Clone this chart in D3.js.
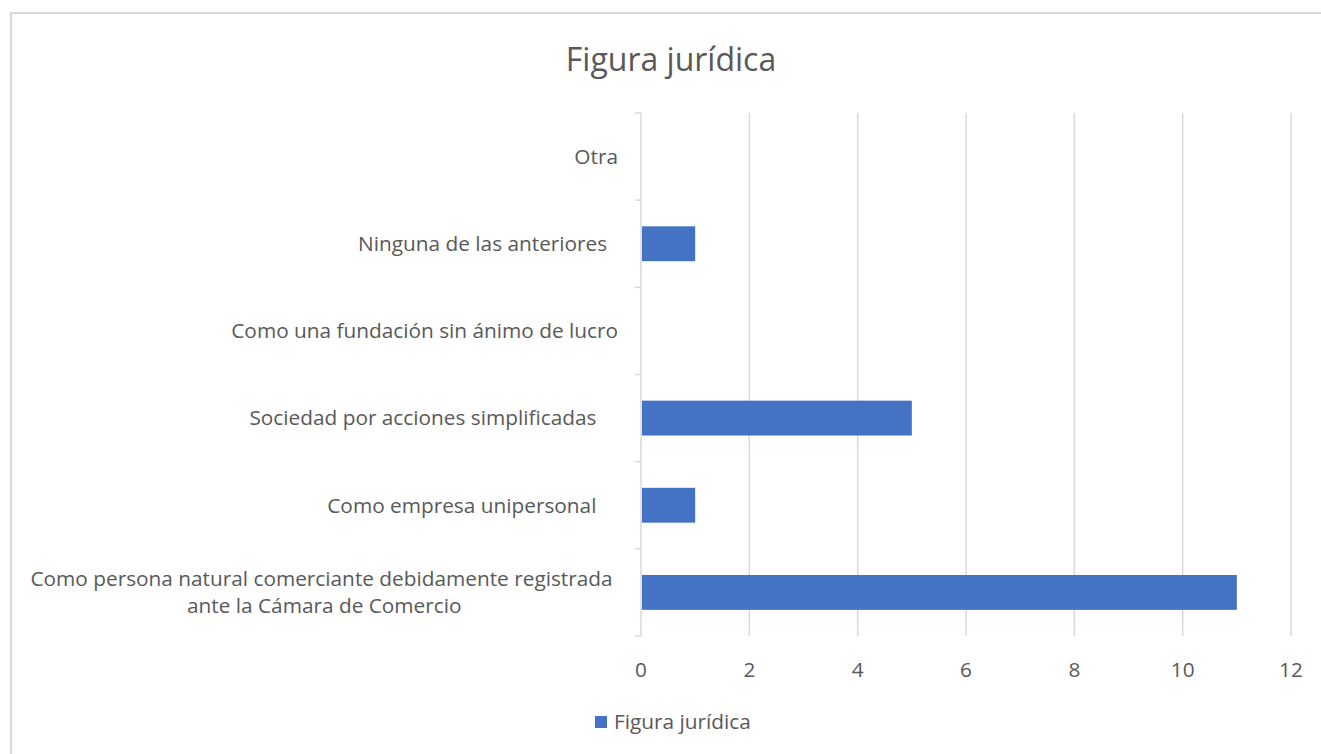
<!DOCTYPE html>
<html><head><meta charset="utf-8">
<script src="https://cdn.jsdelivr.net/npm/d3@7"></script>
<style>
body{margin:0;background:#fff;}
svg{display:block;}
text{font-family:"Open Sans",sans-serif;fill:#595959;}
</style></head>
<body>
<svg id="c" width="1321" height="754"></svg>
<script>
const categories = [
  ["Otra"],
  ["Ninguna de las anteriores  "],
  ["Como una fundación sin ánimo de lucro"],
  ["Sociedad por acciones simplificadas    "],
  ["Como empresa unipersonal    "],
  ["Como persona natural comerciante debidamente registrada ", "ante la Cámara de Comercio"]
];
const values = [0, 1, 0, 5, 1, 11];
const xTicks = [0, 2, 4, 6, 8, 10, 12];
const seriesName = "Figura jurídica";
const title = "Figura jurídica";

const svg = d3.select("#c");
const m = {left: 641, right: 1291, top: 113, bottom: 636};
const grid = "#d9d9d9";

svg.append("rect").attr("x",11).attr("y",13).attr("width",1320).attr("height",760)
  .attr("fill","none").attr("stroke",grid).attr("stroke-width",2);

const x = d3.scaleLinear().domain([0,12]).range([m.left, m.right]);
const y = d3.scaleBand().domain(d3.range(categories.length)).range([m.top, m.bottom]).paddingInner(0.6).paddingOuter(0.3);
const yb = d3.scaleBand().domain(d3.range(categories.length)).range([m.top, m.bottom]);

svg.append("text").attr("x", 671).attr("y", 60).attr("dy","0.35em").attr("text-anchor","middle")
  .style("font-size","32px").text(title);

// gridlines
svg.append("g").selectAll("line").data(xTicks.slice(1)).join("line")
  .attr("x1", d=>x(d)).attr("x2", d=>x(d)).attr("y1", m.top).attr("y2", m.bottom)
  .attr("stroke", grid).attr("stroke-width", 1.5);

// category axis
const yAxisG = svg.append("g");
yAxisG.append("line").attr("x1", m.left).attr("x2", m.left).attr("y1", m.top).attr("y2", m.bottom)
  .attr("stroke", grid).attr("stroke-width", 1.5);
const bounds = d3.range(categories.length+1).map(i => i < categories.length ? yb(i) : m.bottom);
yAxisG.selectAll("line.t").data(bounds).join("line").attr("class","t")
  .attr("x1", m.left-6).attr("x2", m.left).attr("y1", d=>d).attr("y2", d=>d)
  .attr("stroke", grid).attr("stroke-width", 1.5);

// bars
svg.append("g").selectAll("rect").data(values).join("rect")
  .attr("x", x(0)+1).attr("y", (d,i)=>y(i)).attr("height", y.bandwidth())
  .attr("width", d=>Math.max(0, x(d)-x(0)-1)).attr("fill", "#4472c4");

// category labels
const labelRight = 618, fs = 20.8, lh = 27;
categories.forEach((lines, i) => {
  const cy = yb(i) + yb.bandwidth()/2;
  const g = svg.append("g");
  const texts = lines.map((l, j) => g.append("text")
    .attr("xml:space","preserve").style("white-space","pre")
    .style("font-size", fs+"px")
    .attr("y", cy + (j - (lines.length-1)/2)*lh)
    .attr("dy","0.35em").text(l));
  if (lines.length === 1) {
    texts[0].attr("x", labelRight).attr("text-anchor","end");
  } else {
    const maxW = d3.max(texts, t => t.node().getComputedTextLength());
    texts.forEach(t => t.attr("x", labelRight - maxW/2).attr("text-anchor","middle"));
  }
});

// x tick labels
svg.append("g").selectAll("text").data(xTicks).join("text")
  .attr("x", d=>x(d)).attr("y", 670).attr("dy","0.35em").attr("text-anchor","middle")
  .style("font-size","20.8px").text(d=>d);

// legend
svg.append("rect").attr("x",595).attr("y",716).attr("width",12).attr("height",12).attr("fill","#4472c4");
svg.append("text").attr("x",614).attr("y",722).attr("dy","0.35em").style("font-size","20.8px").text(seriesName);
</script>
</body></html>
